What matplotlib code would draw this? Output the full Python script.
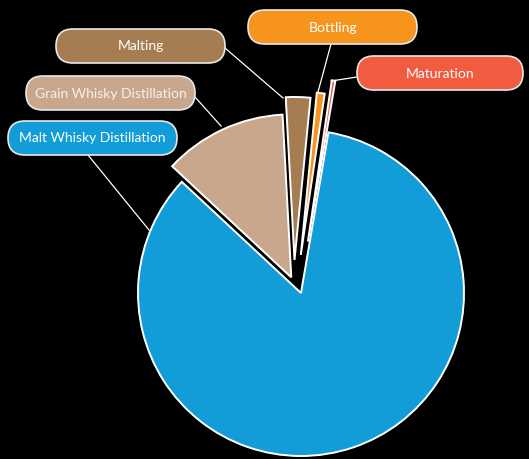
import matplotlib
matplotlib.use("Agg")
import matplotlib.pyplot as plt
from matplotlib.patches import FancyBboxPatch

# Data
categories = ["Malt Whisky Distillation", "Grain Whisky Distillation", "Malting", "Bottling", "Maturation"]
values = [84.25, 12.2, 2.42, 0.78, 0.35]
colors = ["#129dd9", "#c9a78d", "#a67c52", "#f7941d", "#f15b40"]

# slice pull-out offsets (style), in pixels: (right, up)
offsets = [(0.0, 0.0), (-9.7, 15.6), (-6.5, 33.0), (-0.2, 38.1), (6.9, 51.5)]

W, H = 529, 459
fig = plt.figure(figsize=(W / 100, H / 100), dpi=100)
fig.patch.set_facecolor("black")
ax = fig.add_axes([0, 0, 1, 1])
ax.set_facecolor("black")

cx, cy, r = 301, H - 293, 163
wedges, _ = ax.pie(values, colors=colors, startangle=80.3, counterclock=False,
                   center=(cx, cy), radius=r,
                   wedgeprops=dict(edgecolor="white", linewidth=1.4, joinstyle="miter"))
for wdg, (dx, dy) in zip(wedges, offsets):
    wdg.set_center((cx + dx, cy + dy))

ax.set_xlim(0, W)
ax.set_ylim(0, H)
ax.set_aspect("equal")
ax.axis("off")

# label boxes: (left, top, width, height) in pixels, leader line (box point -> wedge point)
boxes = {
    "Malt Whisky Distillation": ((8, 121, 169, 34), ((88, 155), (149, 230))),
    "Grain Whisky Distillation": ((26, 76, 169, 34), ((195, 97), (221, 126))),
    "Malting": ((56, 29, 169, 34), ((225, 48), (283, 98))),
    "Bottling": ((248, 10, 169, 34), ((331, 44), (318, 92))),
    "Maturation": ((357, 56, 166, 34), ((357, 77), (331, 81))),
}
text_colors = {"Grain Whisky Distillation": "#f7f0ea"}

for cat, col in zip(categories, colors):
    (l, t, w, h), (p0, p1) = boxes[cat]
    ax.plot([p0[0], p1[0]], [H - p0[1], H - p1[1]], color="white", lw=0.9, zorder=3)
    patch = FancyBboxPatch((l, H - t - h), w, h,
                           boxstyle="round,pad=0,rounding_size=17",
                           facecolor=col, edgecolor="#e8e8e8", linewidth=1.2, zorder=4)
    ax.add_patch(patch)
    ax.text(l + w / 2, H - t - h / 2 - 0.5, cat, ha="center", va="center",
            color=text_colors.get(cat, "white"), fontsize=10, family=["Lato", "DejaVu Sans"],
            zorder=5)

fig.savefig("out.png", dpi=100, facecolor="black")
